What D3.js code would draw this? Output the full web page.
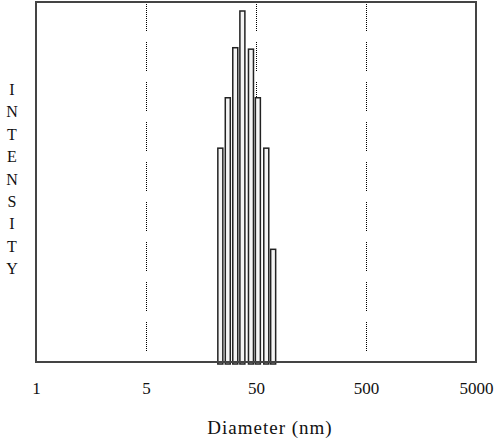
<!DOCTYPE html>
<html>
<head>
<meta charset="utf-8">
<script src="https://cdn.jsdelivr.net/npm/d3@7"></script>
<style>
    body { margin: 0; background: #fff; }
    .chart text { font-family: 'Liberation Serif', 'Times New Roman', serif; fill: #111; }
</style>
</head>
<body>
<div class="chart"></div>
<script>
// size distribution
const diameters = [23.7, 27.7, 32.4, 37.6, 45.0, 52.0, 62.0, 71.6]
const intensities = [59.4, 73.4, 87.3, 97.5, 86.9, 73.4, 59.4, 31.3]
const tickValues = [0.5, 5, 50, 500, 5000]
const tickLabels = ['1', '5', '50', '500', '5000']
const gridValues = [5, 50, 500]
const yLabel = 'INTENSITY'
const xLabel = 'Diameter (nm)'

const fullWidth = 500,
    fullHeight = 440,
    margin = { top: 2, right: 24, bottom: 78, left: 36 },
    width = fullWidth - margin.left - margin.right,
    height = fullHeight - margin.top - margin.bottom,
    barWidth = 5

const svg = d3.select('.chart')
    .append('svg')
    .attr('width', fullWidth)
    .attr('height', fullHeight)

const canvas = svg.append('g')
    .attr('transform', `translate(${margin.left}, ${margin.top})`)

const xScale = d3.scaleLog()
    .domain([0.5, 5000])
    .range([0, width])

const yScale = d3.scaleLinear()
    .domain([0, 100])
    .range([height, 0])

// dotted guide lines: short dotted runs separated by gaps
const dash = d3.range(14).map(() => '1 1').join(' ') + ' 1 11'
canvas.selectAll('.grid')
    .data(gridValues)
    .enter().append('line')
    .attr('class', 'grid')
    .attr('x1', d => Math.round(xScale(d)) + 0.5)
    .attr('x2', d => Math.round(xScale(d)) + 0.5)
    .attr('y1', 0)
    .attr('y2', height)
    .style('stroke', '#000')
    .style('stroke-width', 1)
    .style('stroke-dasharray', dash)

// bars
canvas.selectAll('.bar')
    .data(diameters)
    .enter().append('rect')
    .attr('class', 'bar')
    .attr('x', d => xScale(d) - barWidth / 2)
    .attr('y', (d, i) => yScale(intensities[i]))
    .attr('width', barWidth)
    .attr('height', (d, i) => yScale(0) - yScale(intensities[i]) + 2)
    .style('fill', '#f4f4f4')
    .style('stroke', '#222')
    .style('stroke-width', 1.5)

// frame
canvas.append('rect')
    .attr('width', width)
    .attr('height', height)
    .style('fill', 'none')
    .style('stroke', '#444')
    .style('stroke-width', 2)

// x axis labels only, no tick marks
const xAxis = d3.axisBottom(xScale)
    .tickValues(tickValues)
    .tickFormat((d, i) => tickLabels[i])
    .tickSize(0)
    .tickPadding(20)

const gX = canvas.append('g')
    .attr('transform', `translate(0, ${height})`)
    .call(xAxis)
gX.select('.domain').remove()
gX.selectAll('text')
    .style('font-family', "'Liberation Serif', serif")
    .style('font-size', '17px')
    .style('fill', '#111')

svg.append('text')
    .attr('x', 270)
    .attr('y', 434)
    .attr('text-anchor', 'middle')
    .style('font-size', '19px')
    .style('letter-spacing', '1px')
    .text(xLabel)

// stacked vertical y label
svg.append('g')
    .selectAll('text')
    .data(yLabel.split(''))
    .enter().append('text')
    .attr('x', 12)
    .attr('y', (d, i) => 95 + i * 22.4)
    .attr('text-anchor', 'middle')
    .style('font-size', '16px')
    .text(d => d)
</script>
</body>
</html>
